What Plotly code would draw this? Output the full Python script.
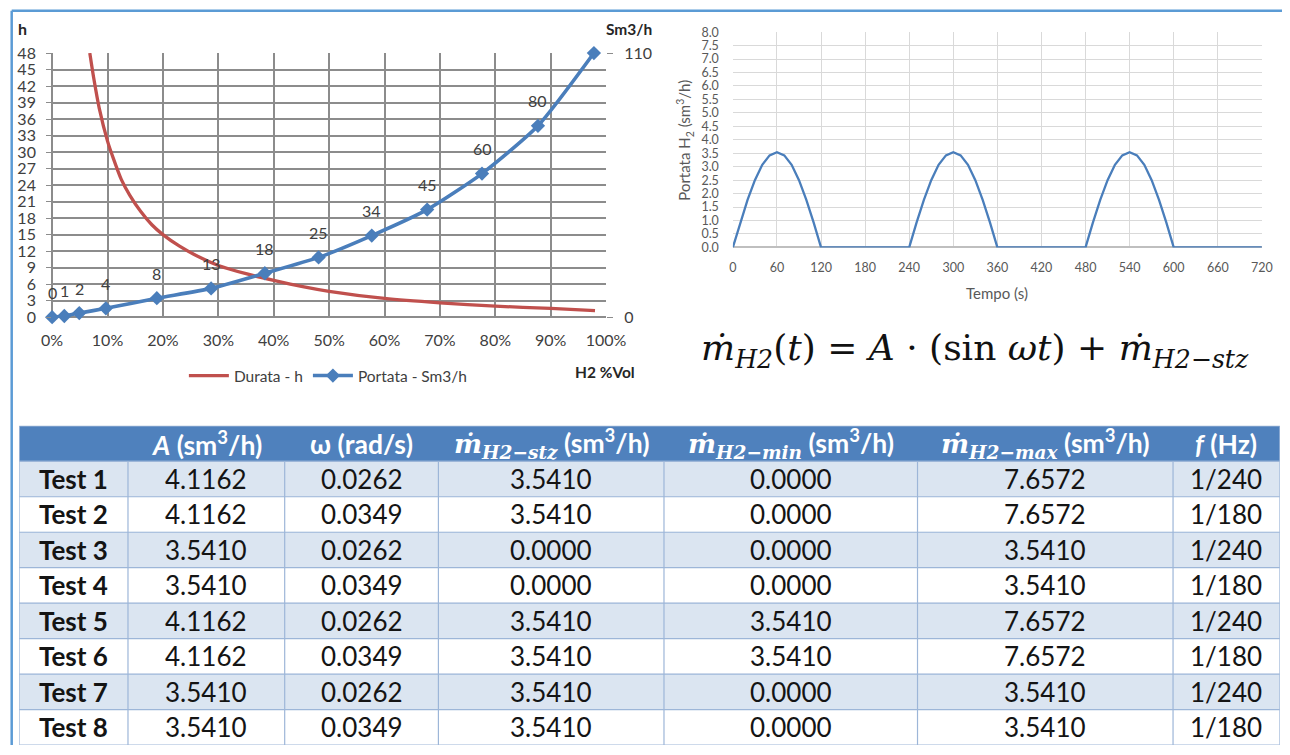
import plotly.graph_objects as go

# Measured mapping of the capture: shown_px = A0 + S * figure_px
S, A0 = 0.978, 8.8
FW, FH = 1302, 754

# ---------------- data: left chart ----------------
durata_pct = [0.068, 0.075, 0.085, 0.10, 0.11, 0.125, 0.14, 0.16, 0.18, 0.20, 0.23, 0.26, 0.30,
              0.35, 0.40, 0.45, 0.50, 0.60, 0.70, 0.80, 0.90, 0.98]
durata_h = [48, 43.5, 38, 32, 29, 25, 22.2, 19.2, 16.8, 15, 12.9, 11.2, 9.4,
            7.9, 6.7, 5.6, 4.7, 3.4, 2.6, 2.0, 1.6, 1.2]

portata_pct = [0, 0.022, 0.049, 0.097, 0.189, 0.287, 0.384, 0.481, 0.577, 0.677, 0.776, 0.877, 0.978]
portata_sm3h = [0, 0.5, 1.7, 3.7, 7.9, 12, 18.3, 24.9, 34, 44.8, 59.8, 79.7, 110]
portata_labels = ["0", "1", "2", "4", "8", "13", "18", "25", "34", "45", "60", "80", ""]

left_y_ticks = [0, 3, 6, 9, 12, 15, 18, 21, 24, 27, 30, 33, 36, 39, 42, 45, 48]
right_y_ticks = [0, 110]

# ---------------- data: right chart ----------------
tempo_s = [0, 10, 20, 30, 40, 50, 60, 70, 80, 90, 100, 110, 120, 130, 140, 150, 160, 170, 180,
           190, 200, 210, 220, 230, 240, 250, 260, 270, 280, 290, 300, 310, 320, 330, 340, 350,
           360, 370, 380, 390, 400, 410, 420, 430, 440, 450, 460, 470, 480, 490, 500, 510, 520,
           530, 540, 550, 560, 570, 580, 590, 600, 610, 620, 630, 640, 650, 660, 670, 680, 690,
           700, 710, 720]
portata_h2 = [0, 0.92, 1.77, 2.50, 3.07, 3.42, 3.54, 3.42, 3.07, 2.50, 1.77, 0.92, 0,
              0, 0, 0, 0, 0, 0, 0, 0, 0, 0, 0,
              0, 0.92, 1.77, 2.50, 3.07, 3.42, 3.54, 3.42, 3.07, 2.50, 1.77, 0.92, 0,
              0, 0, 0, 0, 0, 0, 0, 0, 0, 0, 0,
              0, 0.92, 1.77, 2.50, 3.07, 3.42, 3.54, 3.42, 3.07, 2.50, 1.77, 0.92, 0,
              0, 0, 0, 0, 0, 0, 0, 0, 0, 0, 0, 0]

# ---------------- data: table ----------------
test_names = ["Test 1", "Test 2", "Test 3", "Test 4", "Test 5", "Test 6", "Test 7", "Test 8"]
amp_A = ["4.1162", "4.1162", "3.5410", "3.5410", "4.1162", "4.1162", "3.5410", "3.5410"]
omega = ["0.0262", "0.0349", "0.0262", "0.0349", "0.0262", "0.0349", "0.0262", "0.0349"]
m_stz = ["3.5410", "3.5410", "0.0000", "0.0000", "3.5410", "3.5410", "3.5410", "3.5410"]
m_min = ["0.0000", "0.0000", "0.0000", "0.0000", "3.5410", "3.5410", "0.0000", "0.0000"]
m_max = ["7.6572", "7.6572", "3.5410", "3.5410", "7.6572", "7.6572", "3.5410", "3.5410"]
freq = ["1/240", "1/180", "1/240", "1/180", "1/240", "1/180", "1/240", "1/180"]
column_widths = [109, 157, 154, 226, 254, 256, 107]

SERIF = 'style="font-family:DejaVu Serif"'
header_labels = [
    "",
    "<b><i>A</i> (sm<sup>3</sup>/h)</b>",
    "<b>ω (rad/s)</b>",
    f"<b><span {SERIF}><i>ṁ<sub>H2−stz</sub></i></span> (sm<sup>3</sup>/h)</b>",
    f"<b><span {SERIF}><i>ṁ<sub>H2−min</sub></i></span> (sm<sup>3</sup>/h)</b>",
    f"<b><span {SERIF}><i>ṁ<sub>H2−max</sub></i></span> (sm<sup>3</sup>/h)</b>",
    "<b><i>f</i> (Hz)</b>",
]


def fx(p):
    return min(1.0, max(0.0, ((p - A0) / S) / FW))


def fy(p):
    return min(1.0, max(0.0, 1 - ((p - A0) / S) / FH))


fig = go.Figure()

# Left chart traces
fig.add_trace(go.Scatter(
    x=durata_pct, y=durata_h, mode="lines", name="Durata - h",
    line=dict(color="#c0504d", width=3.3, shape="spline", smoothing=0.6),
    xaxis="x", yaxis="y", cliponaxis=True))
fig.add_trace(go.Scatter(
    x=portata_pct, y=portata_sm3h, mode="lines+markers", name="Portata - Sm3/h",
    line=dict(color="#4a7ebb", width=3.6, shape="spline", smoothing=0.6),
    marker=dict(symbol="diamond", size=11, color="#4a7ebb"),
    xaxis="x", yaxis="y2", cliponaxis=False))

# Right chart trace
fig.add_trace(go.Scatter(
    x=tempo_s, y=portata_h2, mode="lines", showlegend=False,
    line=dict(color="#4a7ebb", width=2.3),
    xaxis="x2", yaxis="y3"))

# Table drawn as a heatmap of cell fills on its own axes
col_edges = [0]
for w in column_widths:
    col_edges.append(col_edges[-1] + w)
n_rows = len(test_names) + 1
row_edges = list(range(n_rows + 1))
z = [[2] * len(column_widths)] + [[0 if i % 2 == 0 else 1] * len(column_widths)
                                  for i in range(len(test_names))]
fig.add_trace(go.Heatmap(
    x=col_edges, y=row_edges, z=z, zmin=0, zmax=2, showscale=False, hoverinfo="skip",
    colorscale=[[0, "#dbe5f1"], [0.5, "#ffffff"], [1, "#4f81bd"]],
    xaxis="x3", yaxis="y4"))

grid_dark = "#8c8c8c"
fig.update_layout(
    width=FW, height=FH, margin=dict(l=0, r=0, t=0, b=0),
    paper_bgcolor="white", plot_bgcolor="white",
    font=dict(family="Lato", color="#404040"),
    showlegend=True,
    legend=dict(orientation="h", x=fx(182), xanchor="left", y=fy(376), yanchor="middle",
                font=dict(size=15.5, color="#404040"), bgcolor="rgba(0,0,0,0)", itemwidth=40),
    xaxis=dict(domain=[fx(50), fx(605)], range=[0, 1], dtick=0.1, tickformat=".0%",
               showgrid=True, gridcolor=grid_dark, gridwidth=1.5, zeroline=True,
               zerolinecolor=grid_dark, zerolinewidth=1.5, showline=False, ticks="",
               tickfont=dict(size=16, color="#404040"), ticklabelstandoff=12, anchor="y",
               fixedrange=True),
    yaxis=dict(domain=[fy(317), fy(52)], range=[0, 48], tickvals=left_y_ticks,
               showgrid=True, gridcolor=grid_dark, gridwidth=1.5, zeroline=True,
               zerolinecolor=grid_dark, zerolinewidth=1.5, ticks="outside", ticklen=5,
               tickcolor=grid_dark, tickfont=dict(size=16, color="#404040"), anchor="x",
               ticklabelstandoff=7, fixedrange=True),
    yaxis2=dict(overlaying="y", side="right", range=[0, 110], tickvals=right_y_ticks,
                showgrid=False, zeroline=False, ticks="outside", ticklen=6, tickcolor=grid_dark,
                tickfont=dict(size=16, color="#404040"), anchor="x", ticklabelstandoff=8,
                fixedrange=True),
    xaxis2=dict(domain=[fx(732), fx(1262)], range=[0, 720], dtick=60,
                showgrid=True, gridcolor="#d9d9d9", gridwidth=1, zeroline=False,
                showline=False, ticks="", tickfont=dict(size=12.5, color="#595959"),
                anchor="y3", ticklabelstandoff=11, fixedrange=True),
    yaxis3=dict(domain=[fy(247), fy(31)], range=[0, 8], dtick=0.5, tickformat=".1f",
                showgrid=True, gridcolor="#d9d9d9", gridwidth=1, zeroline=True,
                zerolinecolor="#bfbfbf", zerolinewidth=1.5, ticks="",
                tickfont=dict(size=12.5, color="#595959"), anchor="x2", ticklabelstandoff=13,
                fixedrange=True),
    xaxis3=dict(domain=[fx(17), fx(1280)], range=[0, col_edges[-1]], visible=False,
                anchor="y4", fixedrange=True),
    yaxis4=dict(domain=[fy(752), fy(426)], range=[n_rows, 0], visible=False,
                anchor="x3", fixedrange=True),
)

annotations = []
# data labels on Portata
for xv, yv, lab in zip(portata_pct, portata_sm3h, portata_labels):
    if lab:
        annotations.append(dict(x=xv, y=yv, xref="x", yref="y2", text=lab, showarrow=False,
                                xanchor="center", yanchor="middle", yshift=25,
                                font=dict(size=16, color="#404040")))
# axis titles and formula
annotations += [
    dict(x=fx(20), y=fy(27), text="<b>h</b>", font=dict(size=16, color="#262626")),
    dict(x=fx(628), y=fy(28), text="<b>Sm3/h</b>", font=dict(size=15.5, color="#262626")),
    dict(x=fx(604), y=fy(372), text="<b>H2 %Vol</b>", font=dict(size=15.5, color="#262626")),
    dict(x=fx(997), y=fy(293), text="Tempo (s)", font=dict(size=15, color="#595959")),
    dict(x=fx(684), y=fy(139), text="Portata H<sub>2</sub> (sm<sup>3</sup>/h)", textangle=-90,
         font=dict(size=15, color="#595959")),
    dict(x=fx(975), y=fy(350),
         text="<i>ṁ</i><sub><i>H2</i></sub>(<i>t</i>) = <i>A</i> · (sin <i>ωt</i>) + <i>ṁ</i><sub><i>H2−stz</i></sub>",
         font=dict(family="DejaVu Serif", size=36, color="#111111")),
]
for a in annotations[-6:]:
    a.update(xref="paper", yref="paper", showarrow=False, xanchor="center", yanchor="middle")

# table texts
col_centers = [(col_edges[i] + col_edges[i + 1]) / 2 for i in range(len(column_widths))]
for ci, lab in enumerate(header_labels):
    if lab:
        annotations.append(dict(x=col_centers[ci], y=0.5, xref="x3", yref="y4", text=lab,
                                showarrow=False, xanchor="center", yanchor="middle",
                                font=dict(size=26.5, color="white")))
columns = [["<b>" + t + "</b>" for t in test_names], amp_A, omega, m_stz, m_min, m_max, freq]
for ci, col in enumerate(columns):
    for ri, val in enumerate(col):
        annotations.append(dict(x=col_centers[ci], y=ri + 1.5, xref="x3", yref="y4", text=val,
                                showarrow=False, xanchor="center", yanchor="middle",
                                font=dict(size=26, color="#141414")))
fig.update_layout(annotations=annotations)

# table borders and blue page frame
shapes = []
border = "#9db6d8"
for e in col_edges[1:-1]:
    shapes.append(dict(type="line", xref="x3", yref="y4", x0=e, x1=e, y0=1, y1=n_rows,
                       line=dict(color=border, width=1.2)))
for r in row_edges[1:-1]:
    shapes.append(dict(type="line", xref="x3", yref="y4", x0=0, x1=col_edges[-1], y0=r, y1=r,
                       line=dict(color=border, width=1.2)))
shapes.append(dict(type="rect", xref="x3", yref="y4", x0=0, x1=col_edges[-1], y0=0, y1=n_rows,
                   line=dict(color=border, width=1.2)))
shapes += [
    dict(type="line", xref="paper", yref="paper", x0=fx(9.5), x1=1, y0=fy(9.5), y1=fy(9.5),
         line=dict(color="#5b9bd5", width=2.5)),
    dict(type="line", xref="paper", yref="paper", x0=fx(9.5), x1=fx(9.5), y0=fy(9.5), y1=0,
         line=dict(color="#5b9bd5", width=2.5)),
]
fig.update_layout(shapes=shapes)

fig.write_html("out.html")
